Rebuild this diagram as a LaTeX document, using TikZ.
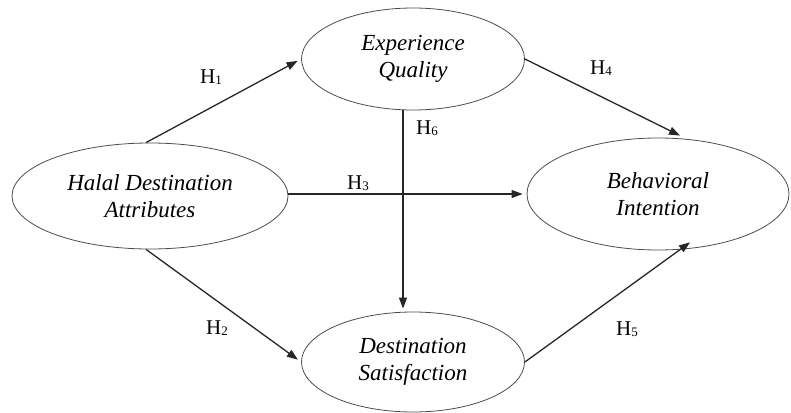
\documentclass[tikz,border=0pt]{standalone}
\usepackage{fontspec}
\setmainfont{Liberation Serif}
\usetikzlibrary{shapes.geometric,arrows.meta}
\newcommand{\hyp}[1]{H\raisebox{-1.5pt}{\fontsize{13}{13}\selectfont #1}}
\begin{document}
\begin{tikzpicture}[x=1pt,y=-1pt,
  construct/.style={ellipse,draw=black!70,line width=0.8pt,inner sep=0pt,align=center,
    font=\fontsize{23}{27}\selectfont\itshape},
  path/.style={draw=black!85,line width=1.3pt,-{Triangle[length=11pt,width=8pt]}},
  hlab/.style={font=\fontsize{21}{23}\selectfont,inner sep=0pt}]
\useasboundingbox (0,0) rectangle (791,412);
\node[construct,minimum width=223pt,minimum height=102pt] (eq) at (413,59) {Experience\\Quality};
\node[construct,minimum width=276pt,minimum height=106pt] (hda) at (150,196) {Halal Destination\\Attributes};
\node[construct,minimum width=262pt,minimum height=112pt] (bi) at (658,194) {Behavioral\\Intention};
\node[construct,minimum width=223pt,minimum height=100pt] (ds) at (413,362) {Destination\\Satisfaction};
\draw[path,shorten >=4pt] ([xshift=-4pt]hda.north) -- (eq.west);
\draw[path,shorten >=4pt] ([xshift=-4pt]hda.south) -- (ds.west);
\draw[path,shorten >=4pt] ([yshift=2pt]hda.east) -- ([yshift=2pt]hda.east -| bi.west);
\draw[path] (eq.east) -- ([xshift=22pt,yshift=2pt]bi.north);
\draw[path] (ds.east) -- ([xshift=32pt,yshift=8pt]bi.south);
\draw[path,shorten >=3pt] ([xshift=-10pt]eq.south) -- ([xshift=-10pt]ds.north);
\node[hlab] (h1) at (211,77) {\hyp{1}};
\node[hlab] (h2) at (217,328) {\hyp{2}};
\node[hlab] (h3) at (358,183) {\hyp{3}};
\node[hlab] (h4) at (601,68) {\hyp{4}};
\node[hlab] (h5) at (627,329) {\hyp{5}};
\node[hlab] (h6) at (427,128) {\hyp{6}};
\end{tikzpicture}
\end{document}
